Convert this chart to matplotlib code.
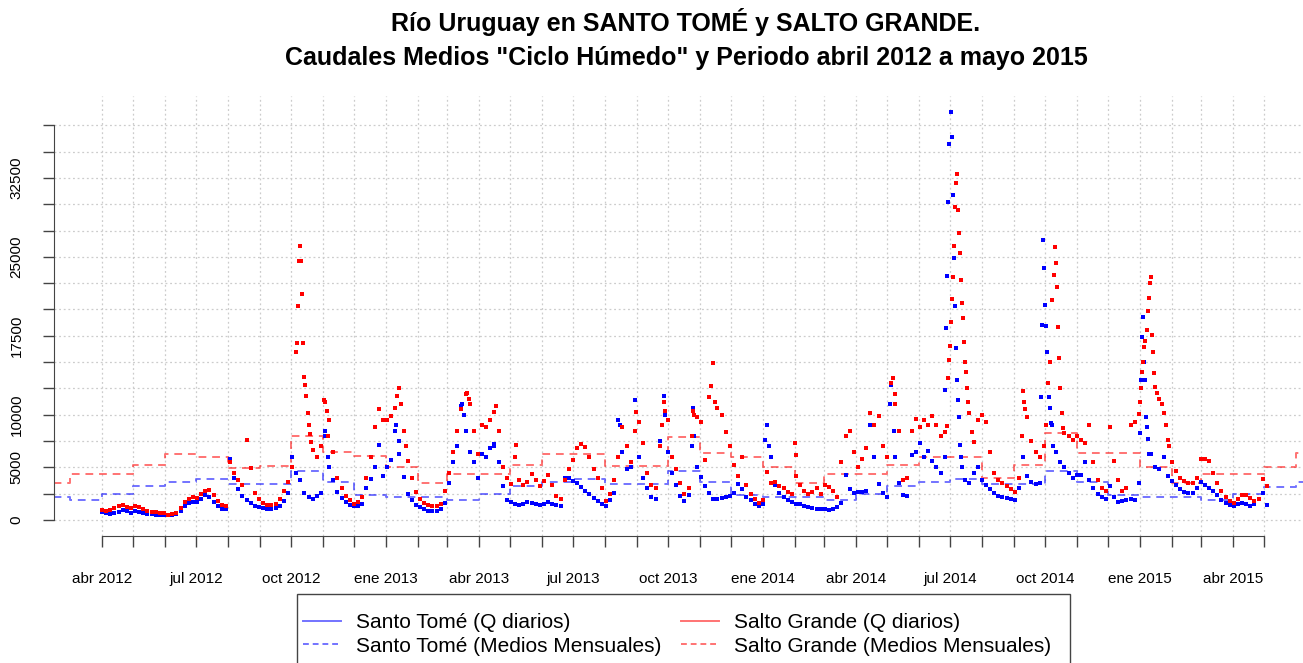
import datetime as dt
import matplotlib
matplotlib.use("Agg")
import matplotlib.pyplot as plt
import matplotlib.dates as mdates
from matplotlib.patches import Rectangle
import numpy as np

# caudales diarios leidos cada 4 dias desde el 1 de abril de 2012 (m3/s)
inicio = np.datetime64("2012-04-01")
paso = 4

st_q = [
    750, 650, 600, 650, 800, 950, 850, 700,
    900, 800, 700, 600, 550, 500, 450, 450,
    450, 500, 600, 900, 1300, 1600, 1750,
    1700, 2000, 2400, 2200, 1700, 1300, 1000, 1000,
    5800, 4000, 2900, 2300, 1900, 1600, 1300, 1200,
    1100, 1000, 1000, 1100, 1300, 1800, 2600,
    6000, 4500, 3800, 2600, 2200, 2000, 2300, 2600,
    8000, 5000, 3800, 2700, 2100, 1700, 1400, 1300,
    1300, 1500, 3000, 3900, 5000, 7100, 4200,
    5000, 5700, 8500, 6300, 4100, 2500, 1900, 1400,
    1200, 1000, 900, 850, 850, 1000, 1600,
    3500, 5500, 7000, 10800, 8500, 6500, 5500, 4000,
    6300, 6000, 6800, 7000, 5500, 3200, 1900,
    1700, 1500, 1400, 1500, 1700, 1600, 1500, 1400,
    1500, 1700, 1500, 1400, 1300, 4000, 4000,
    3700, 3500, 3100, 2800, 2500, 2100, 1800, 1500,
    1300, 1900, 2600, 9500, 6500, 4800, 5000, 11400,
    6000, 4000, 3000, 2200, 2000, 7500, 11800, 6500,
    4500, 3300, 2300, 1800, 2400, 10600, 5000, 4100,
    3200, 2600, 2000, 2000, 2100, 2200, 2300, 2600,
    3400, 2900, 2200, 1900, 1500, 1300, 1500,
    9000, 6000, 3300, 2600, 2200, 1900, 1700, 1500,
    1500, 1300, 1200, 1100, 1000, 1000, 1000,
    950, 1000, 1200, 1600, 4300, 2900, 2600, 2700,
    2700, 2800, 9000, 6000, 3400, 2600, 2200,
    12800, 6000, 3500, 2400, 2300, 6200, 6500, 7300,
    6000, 6600, 5600, 5000, 4500, 6000,
    35680, 30870, 13300, 6000, 3800, 3500, 4500, 5000,
    3800, 3300,
    2900, 2600, 2300, 2200, 2100, 1950,
    1900, 3000, 6000, 4200, 3600, 3400, 3500,
    23900,
    13000, 9000, 6500, 5500, 5000, 4500, 4000, 4300,
    4300, 5500, 3800, 3000, 2500, 2200, 2000,
    3200, 2200, 1700, 1800, 1900, 2000, 1900, 3500,
    19300, 8800, 6300, 5000, 4800, 6000, 4200, 3700,
    3300, 2900, 2700, 2600, 2600, 3000, 3600,
    3300, 3000, 2800, 2400, 1900, 1600, 1400, 1300,
    1500, 1600, 1500, 1300, 1500, 2000, 2600, 1400,
]

sg_q = [
    950, 900, 950, 1100, 1300, 1450, 1250, 1100,
    1300, 1200, 1000, 900, 800, 750, 700, 650,
    500, 550, 700, 1100, 1700, 2000, 2200,
    2100, 2500, 2800, 2850, 2400, 1800, 1400, 1300,
    5500, 4500, 3800, 3300, 7600, 4900, 2600, 2000,
    1600, 1400, 1400, 1500, 2000, 2800, 3600,
    5000, 16000, 26000, 13600, 9000, 6650, 6000, 7000,
    11200, 9500, 6500, 4000, 3000, 2300, 1900, 1500,
    1700, 2200, 4000, 6000, 8800, 10500, 9500,
    9500, 9900, 10600, 12500, 8500, 5600, 4000, 2700,
    2000, 1600, 1400, 1300, 1300, 1500, 2800,
    4500, 6500, 8500, 10500, 12000, 11000, 8500, 6300,
    9000, 8800, 9500, 10300, 8500, 5000, 4000,
    3400, 6000, 3800, 3300, 3600, 4400, 3800, 3200,
    3700, 4300, 3300, 2300, 2000, 3800, 4800,
    5700, 6800, 7200, 6900, 6000, 4800, 4000, 3000,
    1800, 2500, 3800, 6000, 8800, 7000, 5500, 8500,
    9300, 7300, 4500, 3300, 3000, 7000, 11200, 9500,
    6000, 4800, 3500, 2500, 3000, 10400, 9800, 9300,
    5700, 11700, 14900, 10600, 10000, 8400, 7000, 5200,
    4200, 6000, 3300, 2500, 2000, 1600, 1900,
    4600, 3500, 3600, 3200, 3000, 2700, 2500, 4200,
    3300, 2800, 2500, 2700, 3000, 2500, 3300,
    3100, 2800, 2200, 5500, 8000, 8500, 6500, 5000,
    5800, 6800, 10200, 9000, 9900, 7000, 6000,
    13000, 11000, 8500, 3800, 4000, 8500, 9600, 8800,
    9500, 9000, 9900, 9000, 8000, 8400,
    15200, 23120, 32880, 22800, 15050, 10130, 7440, 9500,
    10000, 9300,
    6500, 4500, 3800, 3500, 3200, 2900,
    2700, 4000, 12300, 9800, 7500, 6500, 6000,
    7000,
    13000, 20900, 24410, 12510, 8300, 8000, 7600, 8000,
    7600, 7300, 9000, 5500, 3800, 3000, 2800,
    8800, 5600, 3800, 2800, 3000, 9000, 9300, 10100,
    15000, 18050, 23120, 12670, 11500, 10130, 7600, 5500,
    4700, 4000, 3700, 3500, 3500, 4000, 5800,
    5800, 5600, 4500, 3500, 2800, 2200, 1800, 1600,
    2000, 2400, 2400, 2100, 1800, 2000, 3900, 3200,
]

# dias sueltos de las crecidas (dias desde el 1 de abril de 2012)
st_pico_dias = [216, 219, 285, 288, 349, 351, 380, 502, 542, 545, 571, 573,
                642, 646, 763, 767,
                816, 817, 818, 819, 822, 823, 825, 826, 827, 829, 830, 831, 833,
                909, 910, 911, 913, 914, 915, 917, 918, 919, 921,
                1005, 1006, 1007, 1009, 1010, 1011, 1013, 1014]
st_pico_q = [8500, 6000, 9000, 7500, 11000, 10000, 7200, 9000, 9000, 10000, 7000, 8000,
             7600, 7000, 11000, 8500,
             12350, 18200, 23150, 30240, 38730, 36350, 24920, 20320, 16300, 11400, 9820, 7120, 5060,
             11700, 18500, 26600, 20400, 18400, 16000, 11700, 10600, 9200, 7000,
             8300, 13300, 17400, 15000, 13300, 9800, 7700, 6300]

sg_pico_dias = [189, 190, 191, 193, 194, 195, 197, 198, 199, 201, 202,
                215, 218, 219, 286, 290, 294, 353, 355, 382, 401, 517, 542, 545,
                571, 573, 590, 594, 671, 672, 766, 768,
                818, 819, 821, 822, 823, 825, 826, 827, 829, 830, 831, 833, 834, 835,
                837, 838, 839, 842,
                891, 893, 894,
                914, 918, 922, 923, 925, 926, 927, 930, 931,
                1005, 1006, 1007, 1009, 1010, 1013, 1014, 1015, 1017, 1018, 1019,
                1022, 1026, 1030, 1033]
sg_pico_q = [16800, 20300, 24600, 24600, 21500, 16800, 12800, 11800, 10200, 8200, 7400,
             11400, 10400, 8000, 11800, 11000, 7000, 12100, 11500, 10800, 7100, 10300, 9000, 10400,
             8000, 10000, 12700, 11200, 7300, 6200, 13460, 12000,
             8960, 13460, 16500, 18840, 21000, 26000, 29770, 31990, 29450, 27240, 25340, 20580,
             19160, 16950, 14100, 12500, 11240, 8390,
             8000, 11200, 10500,
             9000, 15000, 23270, 25970, 22160, 18370, 15360, 10130, 8700,
             11240, 12500, 14090, 16470, 17000, 19880, 21070, 22500, 17570, 16000, 14000,
             12030, 11000, 9000, 7000]

# medios mensuales del ciclo humedo, de febrero 2012 a julio 2015
meses = np.arange("2012-02", "2015-08", dtype="datetime64[M]")
st_mensual = [2215, 1900, 2470, 3200, 3600, 3860, 3390, 3390, 4700, 3640, 2375,
              2220, 2220, 1900, 2470, 3200, 3600, 3860, 3390, 3390, 4700, 3640, 2375,
              2220, 2220, 1900, 2470, 3200, 3600, 3860, 3390, 3390, 4700, 3640, 2375,
              2220, 2220, 1900, 2470, 3170, 3640, 3640]
sg_mensual = [3500, 4370, 4370, 5200, 6270, 6000, 4950, 5100, 7950, 6460, 6050,
              5040, 3500, 4400, 4400, 5225, 6270, 6270, 5130, 5130, 7900, 6400, 6020,
              5035, 3470, 4370, 4370, 5225, 6020, 6020, 4000, 5225, 8230, 6400, 6330,
              5070, 3500, 4370, 4370, 5070, 6330, 6330]

nombres_mes = ["ene", "feb", "mar", "abr", "may", "jun",
               "jul", "ago", "sep", "oct", "nov", "dic"]

plt.rcParams["font.family"] = ["Liberation Sans", "DejaVu Sans"]

fechas_st = inicio + np.arange(len(st_q)) * paso
fechas_sg = inicio + np.arange(len(sg_q)) * paso
pico_st = inicio + np.array(st_pico_dias).astype("timedelta64[D]")
pico_sg = inicio + np.array(sg_pico_dias).astype("timedelta64[D]")

fig = plt.figure(figsize=(13.03, 6.63), dpi=100)
ax = fig.add_axes([54 / 1303, 127 / 663, 1249 / 1303, 440 / 663])

x0 = mdates.date2num(dt.datetime(2012, 4, 1))
ax.set_xlim(x0 - 46.5, x0 + 1163)
ax.set_ylim(-1520, 40280)

azul = "#0000ff"
rojo = "#ff0000"

ax.plot(meses, st_mensual, drawstyle="steps-post", color=azul, alpha=0.55,
        lw=1.4, dashes=(4, 3))
ax.plot(meses, sg_mensual, drawstyle="steps-post", color=rojo, alpha=0.55,
        lw=1.4, dashes=(4, 3))

ax.plot(fechas_st, st_q, "s", color=azul, ms=3.3, mew=0)
ax.plot(pico_st, st_pico_q, "s", color=azul, ms=3.3, mew=0)
ax.plot(fechas_sg, sg_q, "s", color=rojo, ms=3.3, mew=0)
ax.plot(pico_sg, sg_pico_q, "s", color=rojo, ms=3.3, mew=0)

# ejes al estilo R
ticks_x = np.arange("2012-04", "2015-06", dtype="datetime64[M]")
etiquetas_x = []
for k, m in enumerate(ticks_x):
    anio = m.astype(object).year
    mes = m.astype(object).month
    etiquetas_x.append(f"{nombres_mes[mes - 1]} {anio}" if k % 3 == 0 else "")
ax.set_xticks(ticks_x.astype("datetime64[D]"))
ax.set_xticklabels(etiquetas_x, fontsize=11)

ticks_y = np.arange(0, 37501, 2500)
etiquetas_y = [str(v) if v in (0, 5000, 10000, 17500, 25000, 32500) else ""
               for v in ticks_y]
ax.set_yticks(ticks_y)
ax.set_yticklabels(etiquetas_y, fontsize=11, rotation=90, va="center")

ax.tick_params(axis="x", length=8, width=1, color="#444444", pad=18)
ax.tick_params(axis="y", length=8, width=1, color="#444444", pad=14)

for lado in ("top", "right"):
    ax.spines[lado].set_visible(False)
ax.spines["left"].set_bounds(0, 37500)
ax.spines["bottom"].set_bounds(mdates.date2num(dt.datetime(2012, 4, 1)),
                               mdates.date2num(dt.datetime(2015, 5, 1)))
for lado in ("left", "bottom"):
    ax.spines[lado].set_color("#444444")

ax.grid(True, color="#cccccc", lw=0.9, dashes=(1.5, 2.2))
ax.set_axisbelow(True)

fig.text(686 / 1303, 1 - 22 / 663,
         "Río Uruguay en SANTO TOMÉ y SALTO GRANDE.",
         ha="center", va="center", fontsize=18, fontweight="bold")
fig.text(686 / 1303, 1 - 58 / 663,
         'Caudales Medios "Ciclo Húmedo" y Periodo abril 2012 a mayo 2015',
         ha="center", va="center", fontsize=18, fontweight="bold")

# caja de la leyenda, cortada por el borde inferior como en el original
caja = Rectangle((297 / 1303, -0.05), 773 / 1303, (663 - 594) / 663 + 0.05,
                 transform=fig.transFigure, facecolor="white",
                 edgecolor="#444444", lw=1, zorder=5)
fig.add_artist(caja)

h1, = ax.plot([], [], color=azul, alpha=0.55, lw=1.4)
h2, = ax.plot([], [], color=azul, alpha=0.55, lw=1.4, dashes=(3, 2))
h3, = ax.plot([], [], color=rojo, alpha=0.55, lw=1.4)
h4, = ax.plot([], [], color=rojo, alpha=0.55, lw=1.4, dashes=(3, 2))
leg = fig.legend([h1, h2, h3, h4],
                 ["Santo Tomé (Q diarios)", "Santo Tomé (Medios Mensuales)",
                  "Salto Grande (Q diarios)", "Salto Grande (Medios Mensuales)"],
                 ncol=2, loc="upper left", bbox_to_anchor=(303 / 1303, 1 - 613 / 663),
                 fontsize=15, frameon=False, handlelength=1.8, handletextpad=0.75,
                 columnspacing=0.95, labelspacing=0.22, borderpad=0,
                 borderaxespad=0)
leg.set_zorder(6)

fig.savefig("out.png", dpi=100)
